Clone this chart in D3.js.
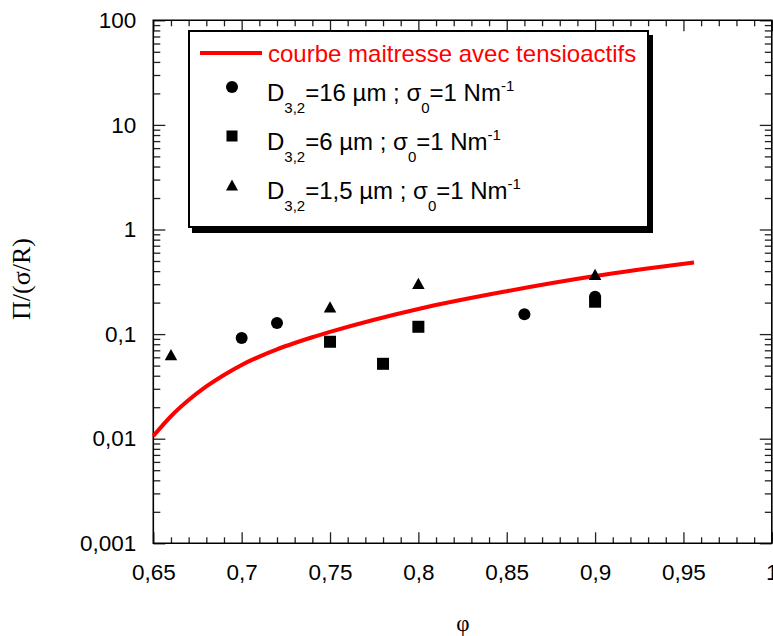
<!DOCTYPE html>
<html>
<head>
<meta charset="utf-8">
<script src="https://cdn.jsdelivr.net/npm/d3@7"></script>
<style>
  html, body { margin: 0; padding: 0; background: #fff; }
  svg { display: block; }
</style>
</head>
<body>
<svg id="chart" width="773" height="636" font-family="'Liberation Sans', Arial, sans-serif"></svg>
<script>
// ---- Data ----
const xTicks = [0.65, 0.7, 0.75, 0.8, 0.85, 0.9, 0.95, 1];
const xTickLabels = ["0,65", "0,7", "0,75", "0,8", "0,85", "0,9", "0,95", "1"];
const yTicks = [0.001, 0.01, 0.1, 1, 10, 100];
const yTickLabels = ["0,001", "0,01", "0,1", "1", "10", "100"];

// master curve (courbe maitresse avec tensioactifs)
const masterPhi = [0.65, 0.66, 0.67, 0.68, 0.69, 0.70, 0.71, 0.72, 0.73, 0.74, 0.75, 0.80, 0.85, 0.90, 0.956];
const masterVal = [0.0106, 0.0164, 0.0234, 0.0316, 0.0407, 0.0507, 0.061, 0.0716, 0.0822, 0.0933, 0.105, 0.174, 0.257, 0.359, 0.484];

// D3,2 = 16 µm (circles)
const phi16 = [0.70, 0.72, 0.86, 0.90];
const val16 = [0.092, 0.128, 0.155, 0.227];
// D3,2 = 6 µm (squares)
const phi6 = [0.75, 0.78, 0.80, 0.90];
const val6 = [0.0845, 0.052, 0.1175, 0.204];
// D3,2 = 1,5 µm (triangles)
const phi15 = [0.66, 0.75, 0.80, 0.90];
const val15 = [0.0637, 0.182, 0.305, 0.372];

// ---- Layout ----
const svg = d3.select("#chart");
const L = 153.3, R = 771.8, T = 20.3, B = 543.3;
const x = d3.scaleLinear().domain([0.65, 1]).range([L, R]);
const y = d3.scaleLog().domain([0.001, 100]).range([B, T]);

const xMinor = d3.range(65, 101).map(d => d / 100).filter(v => Math.round(v * 100) % 5 !== 0);
const yMinor = [];
for (let e = -3; e < 2; e++) for (let m = 2; m <= 9; m++) yMinor.push(m * Math.pow(10, e));

function styleAxis(g) {
  g.attr("font-family", null).attr("font-size", null);
  g.select(".domain").remove();
  g.selectAll(".tick line").attr("stroke", "#222").attr("stroke-width", 1.3);
  g.selectAll("text").attr("fill", "#000").attr("font-size", 22.5);
}

// bottom axis
svg.append("g").attr("transform", `translate(0,${B})`)
  .call(d3.axisBottom(x).tickValues(xTicks).tickSize(-11).tickPadding(21)
    .tickFormat((d, i) => xTickLabels[i]))
  .call(styleAxis);
svg.append("g").attr("transform", `translate(0,${B})`)
  .call(d3.axisBottom(x).tickValues(xMinor).tickSize(-6).tickFormat(""))
  .call(styleAxis);
// top axis
svg.append("g").attr("transform", `translate(0,${T})`)
  .call(d3.axisTop(x).tickValues(xTicks).tickSize(-11).tickFormat(""))
  .call(styleAxis);
svg.append("g").attr("transform", `translate(0,${T})`)
  .call(d3.axisTop(x).tickValues(xMinor).tickSize(-6).tickFormat(""))
  .call(styleAxis);
// left axis
svg.append("g").attr("transform", `translate(${L},0)`)
  .call(d3.axisLeft(y).tickValues(yTicks).tickSize(-12).tickPadding(17)
    .tickFormat((d, i) => yTickLabels[i]))
  .call(styleAxis);
svg.append("g").attr("transform", `translate(${L},0)`)
  .call(d3.axisLeft(y).tickValues(yMinor).tickSize(-7).tickFormat(""))
  .call(styleAxis);
// right axis
svg.append("g").attr("transform", `translate(${R},0)`)
  .call(d3.axisRight(y).tickValues(yTicks).tickSize(-12).tickFormat(""))
  .call(styleAxis);
svg.append("g").attr("transform", `translate(${R},0)`)
  .call(d3.axisRight(y).tickValues(yMinor).tickSize(-7).tickFormat(""))
  .call(styleAxis);

// frame lines
svg.append("path")
  .attr("d", `M${L},${T}H${R}V${B}H${L}Z`)
  .attr("fill", "none").attr("stroke", "#000").attr("stroke-width", 1.6);

// axis titles
svg.append("text")
  .attr("transform", "translate(30,279) rotate(-90)")
  .attr("text-anchor", "middle")
  .attr("font-family", "'Liberation Serif', 'Times New Roman', serif")
  .attr("font-size", 26)
  .text("Π/(σ/R)");
svg.append("text")
  .attr("x", 463).attr("y", 631)
  .attr("text-anchor", "middle")
  .attr("font-family", "'Liberation Serif', 'Times New Roman', serif")
  .attr("font-size", 23)
  .text("φ");

// ---- master curve ----
const line = d3.line().x(d => x(d[0])).y(d => y(d[1])).curve(d3.curveMonotoneX);
svg.append("path")
  .datum(masterPhi.map((p, i) => [p, masterVal[i]]))
  .attr("d", line)
  .attr("fill", "none").attr("stroke", "#ff0000").attr("stroke-width", 4)
  .attr("stroke-linecap", "butt");

// ---- markers ----
function triPath(cx, cy, s) {
  const h = s * 0.9;
  return `M${cx},${cy - h / 2}L${cx + s / 2},${cy + h / 2}L${cx - s / 2},${cy + h / 2}Z`;
}
svg.append("g").selectAll("circle")
  .data(phi16.map((p, i) => [p, val16[i]]))
  .join("circle")
  .attr("cx", d => x(d[0])).attr("cy", d => y(d[1])).attr("r", 6).attr("fill", "#000");
svg.append("g").selectAll("rect")
  .data(phi6.map((p, i) => [p, val6[i]]))
  .join("rect")
  .attr("x", d => x(d[0]) - 6).attr("y", d => y(d[1]) - 6)
  .attr("width", 12).attr("height", 12).attr("fill", "#000");
svg.append("g").selectAll("path")
  .data(phi15.map((p, i) => [p, val15[i]]))
  .join("path")
  .attr("d", d => triPath(x(d[0]), y(d[1]), 12.5)).attr("fill", "#000");

// ---- legend ----
const lg = svg.append("g");
lg.append("rect").attr("x", 192).attr("y", 35).attr("width", 461).attr("height", 198).attr("fill", "#000");
lg.append("rect").attr("x", 189).attr("y", 31).attr("width", 459).attr("height", 196)
  .attr("fill", "#fff").attr("stroke", "#000").attr("stroke-width", 2);

lg.append("line").attr("x1", 200).attr("x2", 262).attr("y1", 53).attr("y2", 53)
  .attr("stroke", "#ff0000").attr("stroke-width", 4);
lg.append("text").attr("x", 268).attr("y", 62).attr("font-size", 24).attr("fill", "#ff0000")
  .text("courbe maitresse avec tensioactifs");

const legendRows = [
  { sym: "circle", cy: 87, base: 101, d: "16" },
  { sym: "square", cy: 136, base: 150, d: "6" },
  { sym: "tri", cy: 185, base: 199, d: "1,5" }
];
legendRows.forEach(r => {
  if (r.sym === "circle") lg.append("circle").attr("cx", 232).attr("cy", r.cy).attr("r", 6).attr("fill", "#000");
  if (r.sym === "square") lg.append("rect").attr("x", 226.5).attr("y", r.cy - 5.5).attr("width", 11).attr("height", 11).attr("fill", "#000");
  if (r.sym === "tri") lg.append("path").attr("d", triPath(232, r.cy, 12)).attr("fill", "#000");
  const t = lg.append("text").attr("x", 267).attr("y", r.base).attr("font-size", 24).attr("fill", "#000");
  t.append("tspan").text("D");
  t.append("tspan").attr("font-size", 15).attr("dy", 12).text("3,2");
  t.append("tspan").attr("dy", -12).text(`=${r.d} µm ; σ`);
  t.append("tspan").attr("font-size", 15).attr("dy", 12).text("0");
  t.append("tspan").attr("dy", -12).text("=1 Nm");
  t.append("tspan").attr("font-size", 15).attr("dy", -10).text("-1");
});
</script>
</body>
</html>
